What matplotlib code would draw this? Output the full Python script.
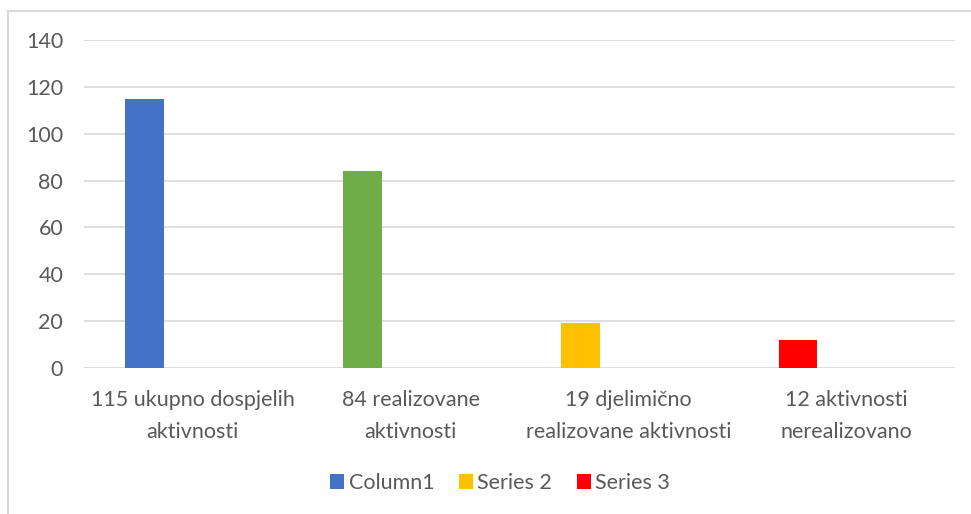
import matplotlib.pyplot as plt
from matplotlib.patches import Patch
from matplotlib.lines import Line2D
import numpy as np

plt.rcParams['font.family'] = ['Lato', 'DejaVu Sans']

categories = ["115 ukupno dospjelih\naktivnosti", "84 realizovane\naktivnosti",
              "19 djelimično\nrealizovane aktivnosti", "12 aktivnosti\nnerealizovano"]
values = [115, 84, 19, 12]
bar_colors = ["#4472C4", "#70AD47", "#FFC000", "#FF0000"]
legend_labels = ["Column1", "Series 2", "Series 3"]
legend_colors = ["#4472C4", "#FFC000", "#FF0000"]
yticks = [0, 20, 40, 60, 80, 100, 120, 140]

txt = "#595959"
grid = "#D9D9D9"
fs = 15.5

fig = plt.figure(figsize=(9.71, 5.14), dpi=100)
ax = fig.add_axes([84/971, 1 - 368/514, (955-84)/971, (368-40)/514])

x = np.arange(len(categories))
ax.bar(x - 0.221, values, width=0.179, color=bar_colors, zorder=3)

ax.set_xlim(-0.5, len(categories) - 0.5)
ax.set_ylim(0, 140)
ax.set_yticks(yticks)
ax.set_xticks(x)
ax.set_xticklabels(categories, fontsize=fs, color=txt, linespacing=1.75)
ax.tick_params(axis='y', labelsize=fs, labelcolor=txt, length=0, pad=15)
ax.tick_params(axis='x', length=0, pad=16)
ax.grid(axis='y', color=grid, linewidth=1.2, zorder=0)
for s in ax.spines.values():
    s.set_visible(False)

handles = [Patch(facecolor=c, edgecolor='none') for c in legend_colors]
fig.legend(handles, legend_labels, loc='center', bbox_to_anchor=(0.515, 1 - 483/514),
           ncol=3, frameon=False, fontsize=fs, labelcolor=txt,
           handlelength=0.65, handleheight=0.65, handletextpad=0.2, columnspacing=1.15)

# chart border (left and top edges visible)
fig.add_artist(Line2D([8/971, 8/971], [0, 1 - 11/514], color=grid, linewidth=1.5))
fig.add_artist(Line2D([8/971, 1], [1 - 11/514, 1 - 11/514], color=grid, linewidth=1.5))

fig.savefig("out.png", dpi=100)
